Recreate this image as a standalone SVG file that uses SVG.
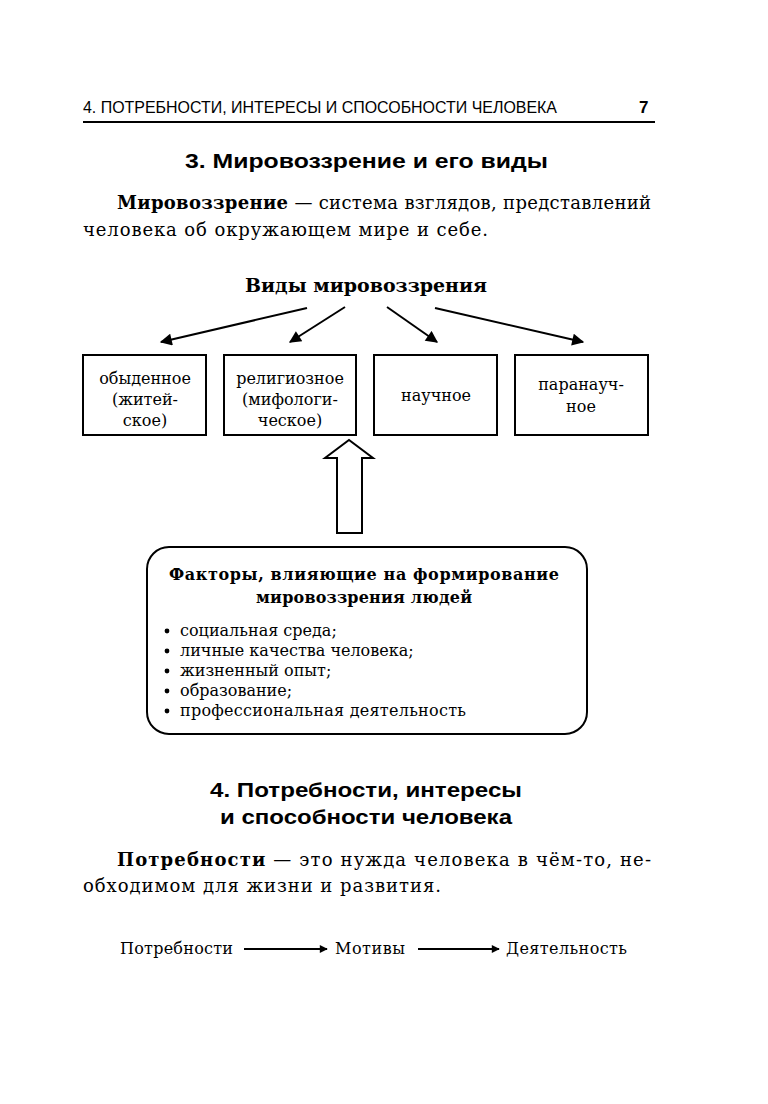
<svg xmlns="http://www.w3.org/2000/svg" width="768" height="1104" viewBox="0 0 768 1104">
<style>
.hdr{font-family:"Liberation Sans","DejaVu Sans",sans-serif;font-size:17px;fill:#000}
.h{font-family:"Liberation Sans","DejaVu Sans",sans-serif;font-weight:bold;font-size:21px;fill:#000}
.p{font-family:"DejaVu Serif","Liberation Serif",serif;font-size:18px;fill:#000}
.pb{font-family:"DejaVu Serif","Liberation Serif",serif;font-size:18px;font-weight:bold;fill:#000}
.sub{font-family:"DejaVu Serif","Liberation Serif",serif;font-size:19px;font-weight:bold;fill:#000}
.bt{font-family:"DejaVu Serif","Liberation Serif",serif;font-size:16px;fill:#000;text-anchor:middle}
.ft{font-family:"DejaVu Serif","Liberation Serif",serif;font-size:16px;font-weight:bold;fill:#000;text-anchor:middle}
.li{font-family:"DejaVu Serif","Liberation Serif",serif;font-size:16px;fill:#000}
.box{fill:#fff;stroke:#000;stroke-width:2}
.ln{stroke:#000;stroke-width:2;fill:none}
</style>
<defs>
<marker id="ah" viewBox="0 0 10 10" refX="9" refY="5" markerWidth="14" markerHeight="12" markerUnits="userSpaceOnUse" orient="auto">
<path d="M0,0 L10,5 L0,10 z" fill="#000"/>
</marker>
<marker id="ah2" viewBox="0 0 10 10" refX="9" refY="5" markerWidth="12" markerHeight="8" markerUnits="userSpaceOnUse" orient="auto">
<path d="M0,0 L10,5 L0,10 z" fill="#000"/>
</marker>
</defs>
<rect width="768" height="1104" fill="#fff"/>

<g id="header">
<text class="hdr" x="83" y="113" textLength="474" lengthAdjust="spacingAndGlyphs">4. ПОТРЕБНОСТИ, ИНТЕРЕСЫ И СПОСОБНОСТИ ЧЕЛОВЕКА</text>
<text class="hdr" x="639" y="113" font-weight="bold">7</text>
<line x1="83" y1="122" x2="655" y2="122" stroke="#000" stroke-width="2"/>
</g>

<g id="section3">
<text class="h" x="185" y="168" textLength="363" lengthAdjust="spacingAndGlyphs">3. Мировоззрение и его виды</text>
<text x="117" y="209" textLength="534" lengthAdjust="spacing"><tspan class="pb">Мировоззрение</tspan><tspan class="p"> — система взглядов, представлений</tspan></text>
<text class="p" x="83" y="236" textLength="405" lengthAdjust="spacing">человека об окружающем мире и себе.</text>
</g>

<g id="vidy">
<text class="sub" x="245" y="292" textLength="242" lengthAdjust="spacingAndGlyphs">Виды мировоззрения</text>
</g>

<g id="connectors">
<line class="ln" x1="307" y1="308" x2="161" y2="342" marker-end="url(#ah)"/>
<line class="ln" x1="345" y1="307" x2="290" y2="342" marker-end="url(#ah)"/>
<line class="ln" x1="387" y1="307" x2="437" y2="342" marker-end="url(#ah)"/>
<line class="ln" x1="435" y1="308" x2="583" y2="342" marker-end="url(#ah)"/>
<path id="bigarrow" d="M337,533 L337,458 L325,458 L349,440 L373,458 L362,458 L362,533 Z" class="box"/>
<line class="ln" x1="244" y1="949" x2="327" y2="949" marker-end="url(#ah2)" stroke-width="1.5"/>
<line class="ln" x1="418" y1="949" x2="499" y2="949" marker-end="url(#ah2)" stroke-width="1.5"/>
</g>

<g id="n1">
<rect class="box" x="83" y="355" width="123" height="80"/>
<text class="bt" x="145" y="384">обыденное</text>
<text class="bt" x="145" y="405">(житей-</text>
<text class="bt" x="145" y="426">ское)</text>
</g>
<g id="n2">
<rect class="box" x="224" y="355" width="132" height="80"/>
<text class="bt" x="290" y="384">религиозное</text>
<text class="bt" x="290" y="405">(мифологи-</text>
<text class="bt" x="290" y="426">ческое)</text>
</g>
<g id="n3">
<rect class="box" x="374" y="355" width="123" height="80"/>
<text class="bt" x="436" y="401">научное</text>
</g>
<g id="n4">
<rect class="box" x="515" y="355" width="133" height="80"/>
<text class="bt" x="581" y="390">паранауч-</text>
<text class="bt" x="581" y="412">ное</text>
</g>

<g id="factors">
<rect class="box" x="147" y="547" width="440" height="187" rx="22" ry="22"/>
<text class="ft" x="364" y="580" textLength="390" lengthAdjust="spacing">Факторы, влияющие на формирование</text>
<text class="ft" x="364" y="603" textLength="216" lengthAdjust="spacing">мировоззрения людей</text>
<g class="li">
<circle cx="167" cy="631" r="2.4"/><text x="180" y="636">социальная среда;</text>
<circle cx="167" cy="651" r="2.4"/><text x="180" y="656">личные качества человека;</text>
<circle cx="167" cy="671" r="2.4"/><text x="180" y="676">жизненный опыт;</text>
<circle cx="167" cy="691" r="2.4"/><text x="180" y="696">образование;</text>
<circle cx="167" cy="711" r="2.4"/><text x="180" y="716" textLength="286" lengthAdjust="spacing">профессиональная деятельность</text>
</g>
</g>

<g id="section4">
<text class="h" x="210" y="797" textLength="312" lengthAdjust="spacingAndGlyphs">4. Потребности, интересы</text>
<text class="h" x="220" y="824" textLength="292" lengthAdjust="spacingAndGlyphs">и способности человека</text>
<text x="117" y="866" textLength="534" lengthAdjust="spacing"><tspan class="pb">Потребности</tspan><tspan class="p"> — это нужда человека в чём-то, не-</tspan></text>
<text class="p" x="83" y="892" textLength="358" lengthAdjust="spacing">обходимом для жизни и развития.</text>
</g>

<g id="b1"><text class="li" x="120" y="954" textLength="113" lengthAdjust="spacing">Потребности</text></g>
<g id="b2"><text class="li" x="335" y="954" textLength="70" lengthAdjust="spacing">Мотивы</text></g>
<g id="b3"><text class="li" x="506" y="954" textLength="121" lengthAdjust="spacing">Деятельность</text></g>
</svg>
